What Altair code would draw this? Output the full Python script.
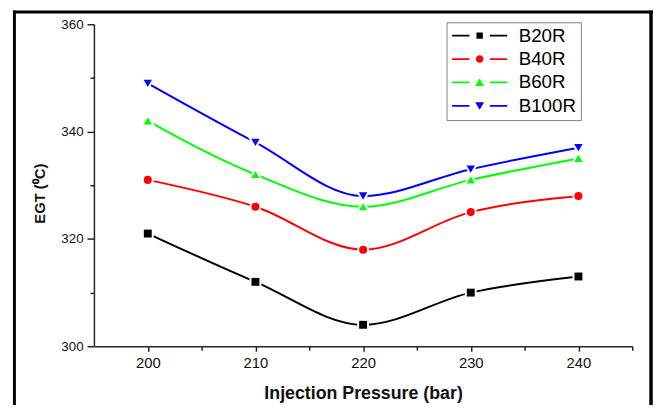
import altair as alt
import pandas as pd

# ---- data ----
pressure = [200, 210, 220, 230, 240]
series_names = ["B20R", "B40R", "B60R", "B100R"]
b20r = [321, 312, 304, 310, 313]
b40r = [331, 326, 318, 325, 328]
b60r = [342, 332, 326, 331, 335]
b100r = [349, 338, 328, 333, 337]
colors = ["#000000", "#ff0000", "#00ff00", "#0000ff"]
shapes = ["square", "circle", "triangle-up", "triangle-down"]
marker_sizes = [64, 72, 110, 110]
x_ticks = [200, 205, 210, 215, 220, 225, 230, 235, 240, 245]
y_ticks = [300, 310, 320, 330, 340, 350, 360]

rows = []
for name, vals in zip(series_names, [b20r, b40r, b60r, b100r]):
    for p, v in zip(pressure, vals):
        rows.append({"pressure": p, "egt": v, "series": name})
df = pd.DataFrame(rows)

FONT = "Liberation Sans"
AX = "#262626"

# legend symbols: line - marker - line
legend_paths = [
    "M-3.1,-0.1H-1.15V0.1H-3.1Z M1.15,-0.1H3.1V0.1H1.15Z M-0.36,-0.36H0.36V0.36H-0.36Z",
    "M-3.1,-0.1H-1.15V0.1H-3.1Z M1.15,-0.1H3.1V0.1H1.15Z M-0.42,0A0.42,0.42 0 1,0 0.42,0A0.42,0.42 0 1,0 -0.42,0Z",
    "M-3.1,-0.1H-1.15V0.1H-3.1Z M1.15,-0.1H3.1V0.1H1.15Z M0,-0.45L0.5,0.4L-0.5,0.4Z",
    "M-3.1,-0.1H-1.15V0.1H-3.1Z M1.15,-0.1H3.1V0.1H1.15Z M0,0.45L0.5,-0.4L-0.5,-0.4Z",
]

x_enc = alt.X(
    "pressure:Q",
    scale=alt.Scale(domain=[195, 245], nice=False, zero=False),
    axis=alt.Axis(
        values=x_ticks,
        labelExpr="datum.value % 10 === 0 ? datum.label : ''",
        tickSize={"condition": {"test": "datum.value % 10 === 0", "value": 5}, "value": 4},
        grid=False,
        domainColor=AX, domainWidth=1.5, tickColor=AX, tickWidth=1.5,
        labelFont=FONT, labelFontSize=15, labelColor="#111111", labelPadding=5,
        labelFlush=False, labelOverlap=False,
        title="Injection Pressure (bar)",
        titleFont=FONT, titleFontSize=18, titleFontWeight="bold", titleColor="#111111",
        titleX=272.5, titleY=53, titleAlign="center", titleBaseline="alphabetic",
    ),
)
y_enc = alt.Y(
    "egt:Q",
    scale=alt.Scale(domain=[300, 360], nice=False, zero=False),
    axis=alt.Axis(
        values=y_ticks,
        labelExpr="datum.value % 20 === 0 ? datum.label : ''",
        tickSize={"condition": {"test": "datum.value % 20 === 0", "value": 7}, "value": 4},
        grid=False,
        domainColor=AX, domainWidth=1.5, tickColor=AX, tickWidth=1.5,
        labelFont=FONT, labelFontSize=13.5, labelColor="#111111", labelPadding=4,
        labelFlush=False, labelOverlap=False,
        title="EGT (⁰C)",
        titleFont=FONT, titleFontSize=15, titleFontWeight="bold", titleColor="#111111",
        titleAngle=270, titleX=-55, titleY=171, titleAlign="center", titleBaseline="middle",
    ),
)

color_scale = alt.Scale(domain=series_names, range=colors)
shape_scale = alt.Scale(domain=series_names, range=shapes)
size_scale = alt.Scale(domain=series_names, range=marker_sizes)

base = alt.Chart(df)

lines = base.mark_line(interpolate="monotone", strokeWidth=2).encode(
    x=x_enc, y=y_enc,
    color=alt.Color("series:N", scale=color_scale, legend=None),
    detail="series:N",
)

halo = base.mark_point(filled=True, color="white", stroke="white", strokeWidth=4, opacity=1).encode(
    x=x_enc, y=y_enc,
    shape=alt.Shape("series:N", scale=shape_scale, legend=None),
    size=alt.Size("series:N", scale=size_scale, legend=None),
)

markers = base.mark_point(filled=True, opacity=1).encode(
    x=x_enc, y=y_enc,
    color=alt.Color("series:N", scale=color_scale, legend=None),
    shape=alt.Shape("series:N", scale=shape_scale, legend=None),
    size=alt.Size("series:N", scale=size_scale, legend=None),
)

leg = alt.Legend(
    orient="none", legendX=357, legendY=-2, title=None,
    symbolSize=324, symbolStrokeWidth=0, symbolOffset=20, symbolOpacity=1,
    labelOffset=30, labelFont=FONT, labelFontSize=19, labelColor="#000000",
    padding=4, strokeColor="#808080", fillColor="white", rowPadding=3.7,
)

legend_layer = base.mark_point(filled=True, opacity=1).encode(
    x=x_enc, y=y_enc,
    color=alt.Color("series:N", scale=alt.Scale(domain=series_names, range=colors), legend=leg),
    shape=alt.Shape("series:N", scale=alt.Scale(domain=series_names, range=legend_paths), legend=leg),
).transform_filter("datum.egt < 0")

one = pd.DataFrame({"k": [0]})
frame_left = alt.Chart(one).mark_rule(color="black", strokeWidth=3).encode(
    x=alt.value(-80.5), y=alt.value(-14), y2=alt.value(400)
)
frame_top = alt.Chart(one).mark_rule(color="black", strokeWidth=3).encode(
    x=alt.value(-82), x2=alt.value(568), y=alt.value(-12.5)
)
frame_right = alt.Chart(one).mark_rule(color="black", strokeWidth=3.5).encode(
    x=alt.value(564), y=alt.value(-14), y2=alt.value(400)
)

chart = alt.layer(
    frame_left, frame_top, frame_right, lines, halo, markers, legend_layer
).resolve_scale(
    color="independent", shape="independent", size="independent"
).properties(
    width=545, height=326,
    autosize=alt.AutoSizeParams(type="none"),
    padding={"left": 87, "top": 14, "right": 21, "bottom": 57},
    background="white",
).configure_view(stroke="transparent")

chart.save("out.html", embed_options={"renderer": "svg", "actions": False})
